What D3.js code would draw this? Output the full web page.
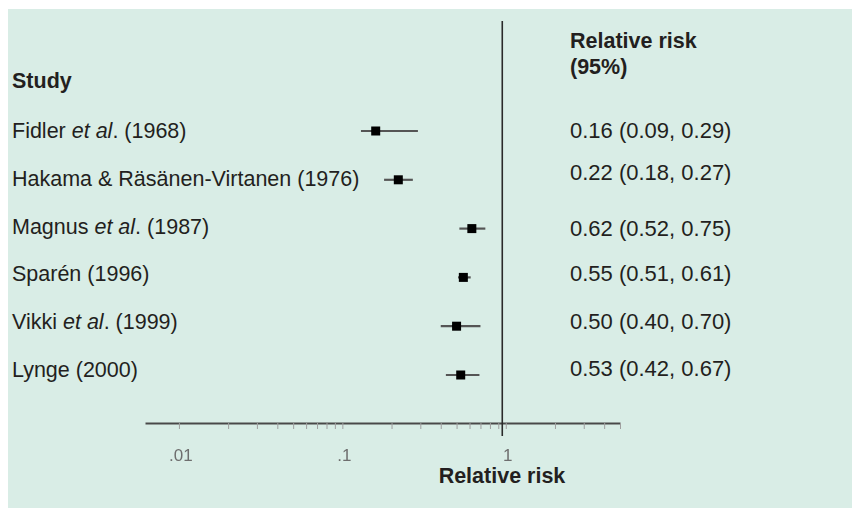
<!DOCTYPE html>
<html><head><meta charset="utf-8">
<script src="https://cdn.jsdelivr.net/npm/d3@7"></script>
<style>
html,body{margin:0;padding:0;background:#fff;}
svg{display:block;}
text{font-family:"Liberation Sans",Arial,Helvetica,sans-serif;}
</style>
</head><body>
<svg id="c" width="852" height="508"></svg>
<script>
// ---- data ----
const studies = ["Fidler et al. (1968)", "Hakama & Räsänen-Virtanen (1976)", "Magnus et al. (1987)", "Sparén (1996)", "Vikki et al. (1999)", "Lynge (2000)"];
const rr    = [0.16, 0.22, 0.62, 0.55, 0.50, 0.53];
const lower = [0.13, 0.18, 0.52, 0.51, 0.40, 0.43];
const upper = [0.29, 0.27, 0.75, 0.61, 0.70, 0.69];
const ciLabels = ["0.16 (0.09, 0.29)", "0.22 (0.18, 0.27)", "0.62 (0.52, 0.75)", "0.55 (0.51, 0.61)", "0.50 (0.40, 0.70)", "0.53 (0.42, 0.67)"];
const tickValues = [0.01, 0.1, 1];
const tickLabels = [".01", ".1", "1"];
const minorTicks = [0.01,0.02,0.03,0.04,0.05,0.06,0.07,0.08,0.09,0.1,0.2,0.3,0.4,0.5,0.6,0.7,0.8,0.9,1,2,3,4,5];

// ---- layout ----
const svg = d3.select("#c");
const defs = svg.append("defs");
defs.append("filter").attr("id","soft").attr("x","-20%").attr("y","-50%").attr("width","140%").attr("height","200%")
  .append("feGaussianBlur").attr("stdDeviation",0.7);

svg.append("rect").attr("x",8).attr("y",9).attr("width",844).attr("height",499).attr("fill","#d9ede6");

const x = d3.scaleLog().domain([0.0062, 5]).range([145, 620]);
const y = d3.scalePoint().domain(studies).range([131, 375]);
const yLeft = d3.scalePoint().domain(studies).range([131, 370]);
const rightNudge = [0, -7, 0, -3, -4, -6];   // text placement of the right column in the original
const ink = "#231f20";
const fs = 21.5;

// headers
svg.append("text").attr("x",12).attr("y",88).attr("font-size",fs).attr("font-weight","bold").attr("fill",ink).text("Study");
svg.append("text").attr("x",570).attr("y",48).attr("font-size",fs).attr("font-weight","bold").attr("fill",ink).text("Relative risk");
svg.append("text").attr("x",570).attr("y",74).attr("font-size",fs).attr("font-weight","bold").attr("fill",ink).text("(95%)");

// study labels (with italic "et al")
studies.forEach((s,i) => {
  const t = svg.append("text").attr("x",12).attr("y",yLeft(s)+7).attr("font-size",fs).attr("fill",ink);
  const parts = s.split("et al");
  if (parts.length > 1) {
    t.append("tspan").text(parts[0]);
    t.append("tspan").attr("font-style","italic").text("et al");
    t.append("tspan").text(parts[1]);
  } else t.text(s);
});

// CI labels
ciLabels.forEach((c,i) => {
  svg.append("text").attr("x",570).attr("y",y(studies[i])+7+rightNudge[i]).attr("font-size",22).attr("fill",ink).text(c);
});

// axis
const axisY = 423;
const axis = d3.axisBottom(x).tickValues(minorTicks).tickSize(6).tickSizeOuter(0).tickFormat("");
const ag = svg.append("g").attr("transform",`translate(0,${axisY})`).attr("filter","url(#soft)").call(axis);
ag.select(".domain").attr("stroke","#4a4a4a").attr("stroke-width",2.2);
ag.selectAll(".tick line").attr("stroke","#9f9f9f").attr("stroke-width",1);

svg.selectAll(".tlab").data(tickValues).join("text").attr("class","tlab")
  .attr("x",(d)=>x(d)+2).attr("y",461).attr("text-anchor","middle")
  .attr("font-size",17).attr("fill","#6e6e6e").attr("filter","url(#soft)")
  .text((d,i)=>tickLabels[i]);

svg.append("text").attr("x",502).attr("y",483).attr("text-anchor","middle").attr("font-size",fs)
  .attr("font-weight","bold").attr("fill",ink).text("Relative risk");

// reference line at RR = 1
svg.append("line").attr("x1",x(1)-3.5).attr("x2",x(1)-3.5).attr("y1",21).attr("y2",436)
  .attr("stroke","#2a2a2a").attr("stroke-width",1.6);

// CIs and points
const pg = svg.append("g").attr("filter","url(#soft)");
pg.selectAll(".ci").data(studies).join("line").attr("class","ci")
  .attr("x1",(d,i)=>x(lower[i])).attr("x2",(d,i)=>x(upper[i]))
  .attr("y1",d=>y(d)).attr("y2",d=>y(d))
  .attr("stroke","#555").attr("stroke-width",2.2);
const bs = 9;
pg.selectAll(".pt").data(studies).join("rect").attr("class","pt")
  .attr("x",(d,i)=>x(rr[i])-bs/2).attr("y",d=>y(d)-bs/2)
  .attr("width",bs).attr("height",bs).attr("fill","#000");
</script>
</body></html>
